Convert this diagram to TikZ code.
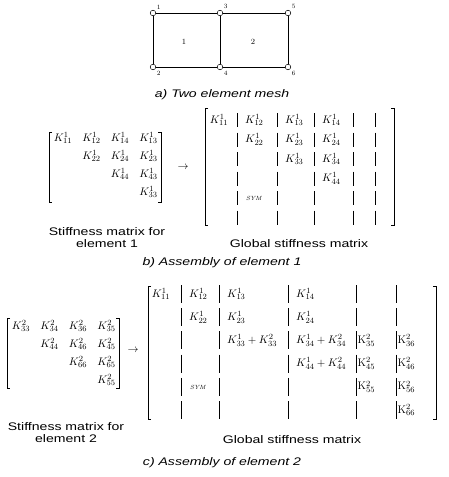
\documentclass[tikz,border=0pt]{standalone}
\usepackage{fontspec}
\newfontfamily\capsf[FakeStretch=1.28]{Liberation Sans}
\tikzset{x=1pt, y=-1pt}

\begin{document}
\begin{tikzpicture}[
  meshpt/.style={circle,draw,fill=white,inner sep=0pt,minimum size=5.6pt,line width=0.5pt},
  numlab/.style={font=\fontsize{6.5}{7}\selectfont,inner sep=0.5pt},
  ent/.style={font=\fontsize{11}{13}\selectfont,inner sep=0pt},
  symtext/.style={font=\fontsize{6}{7}\selectfont\itshape,inner sep=0pt},
  captext/.style={font=\capsf\fontsize{11}{12}\selectfont,align=center,inner sep=0pt},
  brk/.style={line width=0.6pt},
  barline/.style={line width=0.6pt}]
\useasboundingbox (0,0) rectangle (448,477);
% a) mesh
\node[meshpt,label={[numlab,label distance=1.5pt]45:1}] (n1) at (153,13) {};
\node[meshpt,label={[numlab,label distance=1.5pt]-45:2}] (n2) at (153,67) {};
\node[meshpt,label={[numlab,label distance=1.5pt]45:3}] (n3) at (220,13) {};
\node[meshpt,label={[numlab,label distance=1.5pt]-45:4}] (n4) at (220,67) {};
\node[meshpt,label={[numlab,label distance=1.5pt]45:5}] (n5) at (288,13) {};
\node[meshpt,label={[numlab,label distance=1.5pt]-45:6}] (n6) at (288,67) {};
\foreach \a/\b in {n1/n3,n3/n5,n2/n4,n4/n6,n1/n2,n3/n4,n5/n6}
\draw[line width=0.6pt] (\a) -- (\b);
\node[numlab,font=\fontsize{8}{9}\selectfont] (el1) at (184,42) {1};
\node[numlab,font=\fontsize{8}{9}\selectfont] (el2) at (253,42) {2};
\node[captext] (capa) at (222,95) {\itshape a) Two element mesh};
% b) element 1 matrix
\draw[brk] (52,132) -- (49,132) -- (49,202) -- (52,202);
\draw[brk] (158,132) -- (161,132) -- (161,202) -- (158,202);
\foreach \c/\r/\idx in {1/1/11,2/1/12,3/1/14,4/1/13,2/2/22,3/2/24,4/2/23,3/3/44,4/3/43,4/4/33}
\node[ent] (lb\idx) at ({63+28.5*(\c-1)},{138+18*(\r-1)}) {$K^1_{\idx}$};
\node[ent] (arb) at (183,167) {$\rightarrow$};
% b) global matrix
\draw[brk] (208,108) -- (205,108) -- (205,225) -- (208,225);
\draw[brk] (391,108) -- (394,108) -- (394,225) -- (391,225);
\foreach \x in {237,277,314,353,375} % edit here for the bars
\foreach \r in {0,...,5}
\draw[barline] (\x,{120+19.5*\r-7}) -- (\x,{120+19.5*\r+7});
\node[ent] (gb11) at (219,120) {$K^1_{11}$};
\foreach \x/\r/\idx in {237/0/12,237/1/22,277/0/13,277/1/23,277/2/33,314/0/14,314/1/24,314/2/34,314/3/44}
\node[ent,anchor=west] (gb\idx) at (\x+8,{120+19.5*\r}) {$K^1_{\idx}$};
\node[symtext,anchor=west] (gbsym) at (246,198) {SYM};
\node[captext] (lcapb) at (107,238) {Stiffness matrix for\\element 1};
\node[captext] (gcapb) at (299,244) {Global stiffness matrix};
\node[captext] (capb) at (222,263) {\itshape b) Assembly of element 1};
% c) element 2 matrix
\draw[brk] (10,318) -- (7,318) -- (7,388) -- (10,388);
\draw[brk] (116,318) -- (119,318) -- (119,388) -- (116,388);
\foreach \c/\r/\idx in {1/1/33,2/1/34,3/1/36,4/1/35,2/2/44,3/2/46,4/2/45,3/3/66,4/3/65,4/4/55}
\node[ent] (lc\idx) at ({21+28.5*(\c-1)},{326+18*(\r-1)}) {$K^2_{\idx}$};
\node[ent] (arc) at (133,350) {$\rightarrow$};
% c) global matrix
\draw[brk] (151,286) -- (148,286) -- (148,419) -- (151,419);
\draw[brk] (433,286) -- (436,286) -- (436,419) -- (433,419);
\foreach \x in {181,219,288,356,396}
\foreach \r in {0,...,5}
\draw[barline] (\x,{294+23.2*\r-9}) -- (\x,{294+23.2*\r+9});
\node[ent] (gc11) at (161,294) {$K^1_{11}$};
\foreach \x/\r/\idx in {181/0/12,181/1/22,219/0/13,219/1/23,288/0/14,288/1/24}
\node[ent,anchor=west] (gc\idx) at (\x+8,{294+23.2*\r}) {$K^1_{\idx}$};
\foreach \x/\r/\idx in {219/2/33,288/2/34,288/3/44}
\node[ent,anchor=west] (gc\idx) at (\x+8,{294+23.2*\r}) {$K^1_{\idx}+K^2_{\idx}$};
\foreach \x/\r/\idx in {356/2/35,356/3/45,356/4/55,396/2/36,396/3/46,396/4/56,396/5/66}
\node[ent,anchor=west] (gc\idx) at (\x+1.5,{294+23.2*\r}) {$\mathrm{K}^2_{\idx}$};
\node[symtext,anchor=west] (gcsym) at (190,387) {SYM};
\node[captext] (lcapc) at (66,433) {Stiffness matrix for\\element 2};
\node[captext] (gcapc) at (292,440) {Global stiffness matrix};
\node[captext] (capc) at (222,463) {\itshape c) Assembly of element 2};
\end{tikzpicture}
\end{document}
